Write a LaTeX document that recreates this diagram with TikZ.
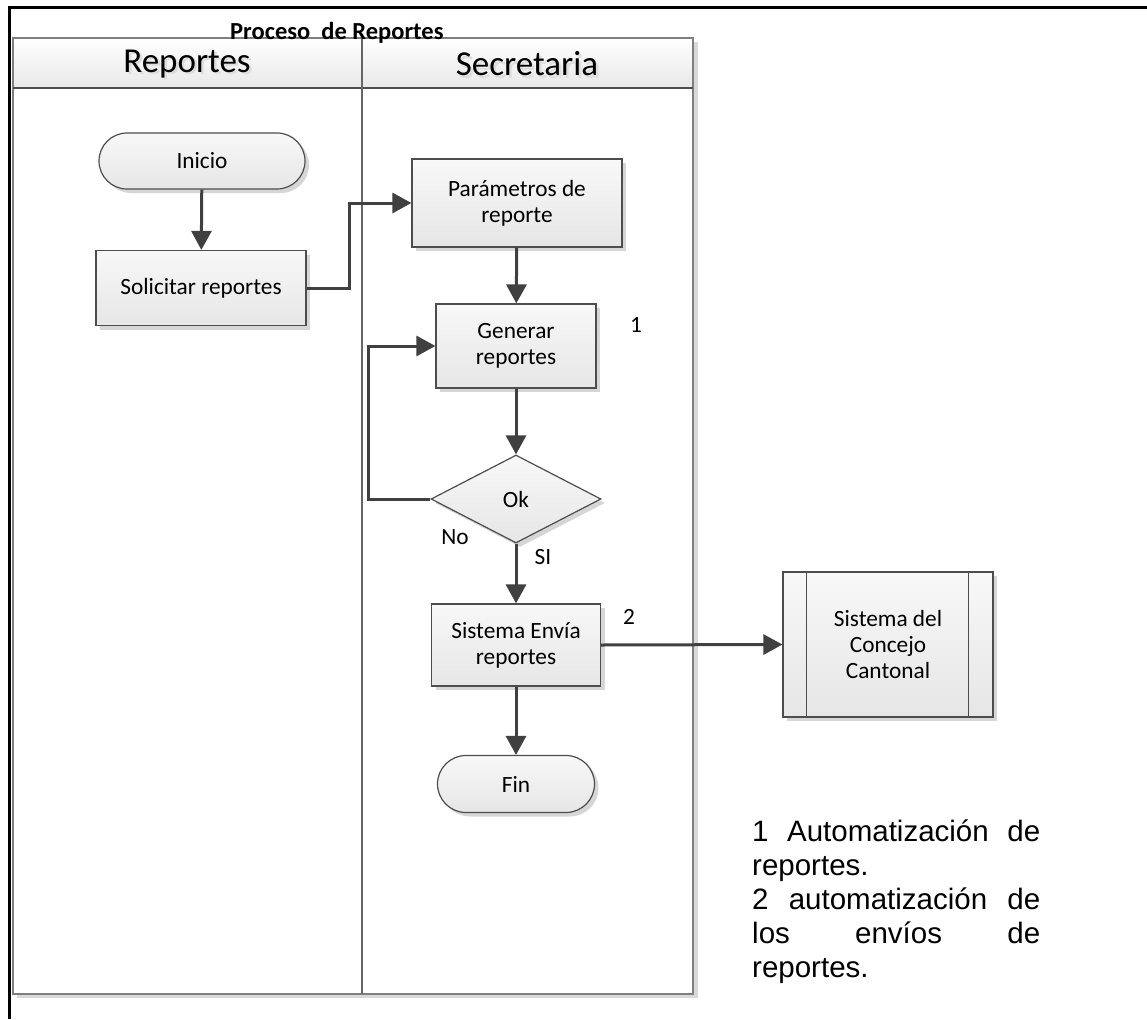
\documentclass[tikz,border=0pt]{standalone}
\usepackage{fontspec}
\setmainfont{Carlito}
\newfontfamily\notesfont{Liberation Sans}
\usetikzlibrary{shapes.geometric,shapes.misc,shadows,arrows.meta}
\definecolor{linegray}{HTML}{404040}
\definecolor{edgegray}{HTML}{4D4D4D}
\definecolor{poolgray}{HTML}{7F7F7F}
\definecolor{boxtop}{HTML}{F8F8F8}
\definecolor{boxbot}{HTML}{E6E6E6}

\begin{document}
\begin{tikzpicture}[x=1pt,y=-1pt,
  boxfont/.style={font=\fontsize{23.3}{26}\selectfont},
  shapebase/.style={draw=edgegray, line width=1.2pt, top color=boxtop, bottom color=boxbot,
    drop shadow={shadow xshift=4pt,shadow yshift=-4pt,fill=black!16,opacity=1},
    boxfont, align=center, inner sep=2pt},
  process/.style={shapebase, rectangle},
  terminal/.style={shapebase, rounded rectangle, minimum width=210pt, minimum height=56pt},
  decision/.style={shapebase, diamond, minimum width=170pt, minimum height=88pt, inner sep=0pt},
  flow/.style={draw=linegray, line width=3pt, -{Triangle[length=19pt,width=20pt]}},
  lbl/.style={boxfont, inner sep=0pt},
  lanehead/.style={font=\fontsize{35}{40}\selectfont, inner sep=0pt},
  laneshadow/.style={lanehead, text=black!13}]

\useasboundingbox (0,0) rectangle (1147,1019);
\fill[white] (0,0) rectangle (1147,1019);

% outer frame
\draw[line width=3pt] (7.5,8) -- (1147,8);
\draw[line width=3pt] (9,8) -- (9,1019);

% swimlane pool
\fill[black!15] (17,42) rectangle (698,998);
\fill[white] (13,38) rectangle (693,994);
\shade[top color=white, bottom color=black!9] (13,38) rectangle (693,88);
\draw[poolgray, line width=1.5pt] (13,38) rectangle (693,994);
\draw[edgegray, line width=1.5pt] (13,88) -- (693,88);
\draw[black!60, line width=1.8pt] (362,38) -- (362,994);

% lane headings
\node[laneshadow] at (189.5,66.5) {Reportes};
\node[lanehead] (hrep) at (187,64) {Reportes};
\node[laneshadow] at (529.5,66.5) {Secretaria};
\node[lanehead] (hsec) at (527,64) {Secretaria};

% title
\node[anchor=base west, font=\bfseries\fontsize{24.5}{28}\selectfont, inner sep=0pt] (title) at (230,40) {Proceso\ \ de Reportes};

% flow nodes
\node[terminal] (ini) at (202,161) {Inicio};
\node[process, minimum width=210pt, minimum height=75pt] (sol) at (201,288) {Solicitar reportes};
\node[process, minimum width=210pt, minimum height=88pt] (par) at (517,203) {Parámetros de\\reporte};
\node[process, minimum width=160pt, minimum height=84pt] (gen) at (516,346) {Generar\\reportes};
\node[decision] (ok) at (516,499) {Ok};
\node[process, minimum width=169pt, minimum height=82pt] (env) at (516,645) {Sistema Envía\\reportes};
\node[terminal, minimum width=161pt, minimum height=57pt] (fin) at (516,784) {Fin};
\node[process, minimum width=210pt, minimum height=145pt] (cc) at (888,644.5) {Sistema del\\Concejo\\Cantonal};
\draw[edgegray, line width=1.2pt] ([xshift=24pt]cc.north west) -- ([xshift=24pt]cc.south west);
\draw[edgegray, line width=1.2pt] ([xshift=-25pt]cc.north east) -- ([xshift=-25pt]cc.south east);

% connectors
\draw[flow] (ini) -- (sol);
\draw[flow] (sol.east) -- ++(43,0) |- (par.west);
\draw[flow] (par) -- (gen);
\draw[flow] (gen) -- (ok);
\draw[flow] (ok.west) -- ++(-62,0) |- (gen.west);
\draw[flow] (ok) -- (env);
\draw[flow] (env.east) -- (cc.west);
\draw[flow] (env) -- (fin);

% labels
\node[lbl] (lno) at (455,537) {No};
\node[lbl] (lsi) at (543,557) {SI};
\node[lbl] (n1) at (636,325) {1};
\node[lbl] (n2) at (629,617) {2};

% notes
\node[anchor=north west, inner sep=0pt, align=left,
      font=\notesfont\fontsize{29.5}{34}\selectfont] (notes) at (752,820)
  {\makebox[288pt][s]{1 Automatización de}\\
   reportes.\\
   \makebox[288pt][s]{2 automatización de}\\
   \makebox[288pt][s]{los envíos de}\\
   reportes.};
\end{tikzpicture}
\end{document}
